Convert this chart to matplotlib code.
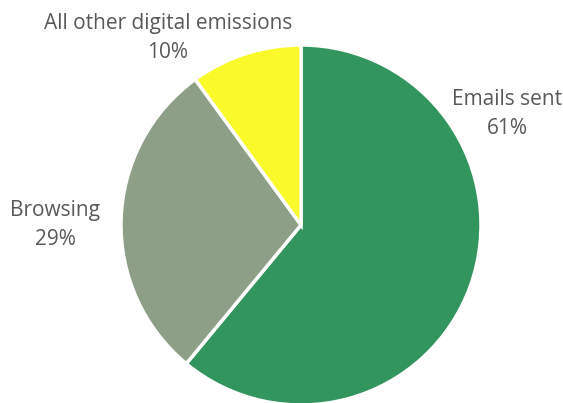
import matplotlib.pyplot as plt

# Share of digital emissions
categories = ["Emails sent", "Browsing", "All other digital emissions"]
shares = [61, 29, 10]
colors = ["#33955E", "#8E9F87", "#FAFA2A"]

W, H = 563, 403
fig = plt.figure(figsize=(W / 100, H / 100), dpi=100)
ax = fig.add_axes([0, 0, 1, 1])

cx, cy, r = 301, H - 225, 180
ax.pie(shares, colors=colors, startangle=90, counterclock=False,
       center=(cx, cy), radius=r, frame=True,
       wedgeprops=dict(edgecolor="white", linewidth=2.5))
ax.set_xlim(0, W)
ax.set_ylim(0, H)
ax.set_aspect("equal")
ax.axis("off")

# label anchors (pixel positions from top-left)
label_pos = [(507, 114), (55, 225), (168, 38)]
for name, val, (x, y) in zip(categories, shares, label_pos):
    ax.text(x, H - y, f"{name}\n{val}%", ha="center", va="center",
            fontsize=15, color="#595959", family="Open Sans",
            linespacing=1.45)

fig.savefig("out.png", dpi=100)
